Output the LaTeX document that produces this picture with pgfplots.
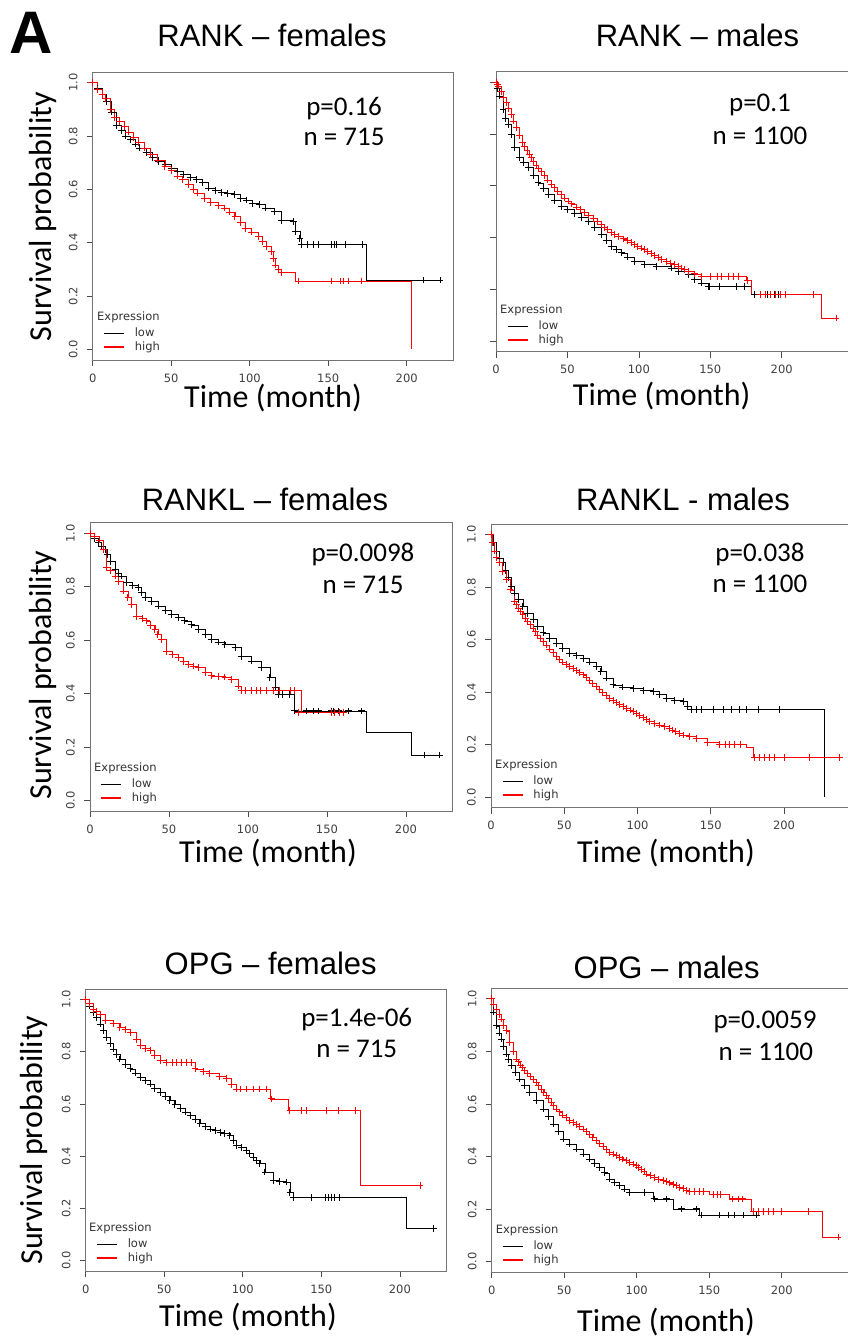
\documentclass[border=0pt]{standalone}
\usepackage{pgfplots}
\pgfplotsset{compat=1.18}
\usepackage{fontspec}
\setmainfont{Liberation Sans}
\newfontfamily\arialf{Liberation Sans}
\newfontfamily\calib{Carlito}
\newfontfamily\dejavu{DejaVu Sans}

\pgfplotsset{
  km/.style={
    scale only axis, anchor=north west,
    xmin=0, ymin=-0.04, ymax=1.04,
    axis line style={draw=black!55, line width=0.7bp},
    tick align=outside, tick pos=left,
    major tick length=6bp,
    tick style={black!70, line width=0.7bp},
    xtick={0,50,100,150,200}, xticklabels={0,50,100,150,200},
    ytick={0,0.2,0.4,0.6,0.8,1}, yticklabels={0.0,0.2,0.4,0.6,0.8,1.0},
    ticklabel style={font=\dejavu\fontsize{11.5bp}{13bp}\selectfont, text=black!75, inner sep=0pt},
    xticklabel style={anchor=north},
    yticklabel style={rotate=90, anchor=south},
    xticklabel shift=7.5bp, yticklabel shift=9bp,
    legend image code/.code={\draw[#1] (0bp,0bp) -- (20bp,0bp);},
    legend cell align=left,
    legend style={draw=none, fill=none, anchor=north west, inner sep=0pt,
      row sep=3bp, column sep=10bp,
      font=\dejavu\fontsize{11.5bp}{13bp}\selectfont, text=black!80,
      nodes={inner sep=0pt, text height=8.5bp, text depth=2.5bp}},
  },
  lowm/.style={forget plot, const plot, black, line width=0.8bp, mark=+, mark size=3.4bp, mark options={line width=0.9bp}},
  lowl/.style={forget plot, const plot, black, line width=0.8bp, no markers},
  lowc/.style={forget plot, only marks, black, mark=+, mark size=3.4bp, line width=0.9bp},
  highm/.style={forget plot, const plot, red, line width=0.8bp, mark=+, mark size=3.4bp, mark options={line width=0.9bp}},
  highl/.style={forget plot, const plot, red, line width=0.8bp, no markers},
  highc/.style={forget plot, only marks, red, mark=+, mark size=3.4bp, line width=0.9bp},
  lowkey/.style={draw=black, line width=1.4bp},
  highkey/.style={draw=red, line width=1.6bp},
}

\begin{document}
\begin{tikzpicture}
\useasboundingbox (0,0) rectangle (848bp,-1338bp);
\clip (0,0) rectangle (848bp,-1338bp);

% RANK - females
\begin{axis}[km, at={(92.7bp,-72bp)}, width=360.3bp, height=288bp, xmax=229.5,
  legend style={at={(0.0286,0.1128)}}]
\addplot[lowm] coordinates {(0,1.0)(3,0.98)(6,0.955)(9,0.93)(12,0.89)(15,0.84)(18,0.82)(21,0.80)(24,0.787)(27,0.77)(30,0.755)(34,0.737)(38,0.72)(42,0.705)(46,0.692)(50,0.68)(54,0.667)(58,0.655)(62,0.645)(66,0.636)(70,0.625)(74,0.605)(78,0.595)(82,0.588)(86,0.585)(90,0.58)(94,0.567)(98,0.56)(102,0.548)(106,0.542)(110,0.53)(116,0.517)(120,0.482)(127.8,0.479)(128.9,0.442)(132,0.417)(133.1,0.394)};
\addplot[lowl] coordinates {(133.1,0.394)(174.5,0.26)(221.2,0.26)};
\addplot[lowc] coordinates {(136.9,0.394)(140.5,0.394)(143.7,0.394)(152.2,0.394)(153.9,0.394)(155.4,0.394)(160.7,0.394)(171.9,0.394)(210.6,0.26)(221.2,0.26)};
\addplot[highm] coordinates {(0,1.0)(3,0.975)(6,0.955)(8,0.94)(11,0.9)(14,0.87)(17,0.853)(20,0.835)(23,0.815)(26,0.795)(29,0.775)(33,0.755)(37,0.732)(41,0.71)(46,0.686)(50,0.67)(54,0.65)(57,0.636)(61,0.618)(64,0.6)(67,0.586)(71,0.567)(75,0.55)(80,0.54)(84,0.53)(87,0.515)(90.6,0.498)(94,0.475)(97,0.454)(101,0.44)(105.5,0.423)(108,0.405)(110.8,0.385)(113.9,0.366)(115,0.34)(116.1,0.316)(118,0.3)(120.4,0.289)};
\addplot[highl] coordinates {(120.4,0.289)(128.9,0.256)(203.2,0.0)};
\addplot[highc] coordinates {(131,0.256)(151.8,0.256)(157.5,0.256)(159.7,0.256)(162.8,0.256)(171.3,0.256)};
\addlegendimage{lowkey}\addlegendentry{low}
\addlegendimage{highkey}\addlegendentry{high}
\end{axis}

% RANK - males
\begin{axis}[km, at={(496bp,-71.7bp)}, width=362bp, height=280bp, xmax=253.4,
  yticklabels={}, legend style={at={(0.0297,0.1114)}}]
\addplot[lowm] coordinates {(0,1.0)(1,0.975)(2.5,0.946)(4.9,0.895)(6.5,0.86)(8.4,0.837)(10.7,0.798)(13.1,0.747)(16.6,0.708)(19.5,0.69)(22.4,0.669)(26,0.64)(29.4,0.611)(33,0.588)(36.4,0.566)(41,0.543)(45.7,0.521)(50,0.507)(55,0.492)(60,0.478)(64.4,0.463)(69,0.44)(73.7,0.412)(77,0.39)(80.7,0.367)(84,0.355)(87.7,0.341)(92,0.325)(97,0.309)(104,0.296)(112,0.29)(122.7,0.283)(128,0.27)(134.4,0.258)(139,0.24)(143.7,0.225)(148.4,0.213)};
\addplot[lowl] coordinates {(148.4,0.213)(178.7,0.18)(198,0.18)};
\addplot[lowc] coordinates {(149.6,0.213)(156.6,0.213)(168.3,0.213)(174.1,0.213)(181,0.18)(185,0.18)(190,0.18)(195,0.18)(198,0.18)};
\addplot[highm] coordinates {(0,1.0)(1,0.99)(2,0.985)(3.7,0.965)(5.5,0.94)(7.2,0.92)(9,0.897)(10.7,0.875)(12.5,0.85)(14.2,0.824)(16.5,0.795)(18.8,0.766)(20.2,0.752)(21.7,0.737)(23.2,0.722)(24.7,0.708)(26.3,0.694)(28,0.68)(30,0.668)(31.7,0.656)(34,0.64)(36,0.622)(38.5,0.606)(41,0.592)(43.3,0.578)(45.5,0.565)(48,0.553)(50.4,0.541)(53,0.53)(56,0.518)(59,0.507)(62,0.496)(65,0.485)(68,0.473)(71,0.462)(73.7,0.451)(76,0.44)(78,0.43)(80.5,0.421)(83,0.412)(86,0.403)(89,0.395)(92,0.388)(94.7,0.38)(97,0.374)(99,0.367)(101.5,0.36)(104,0.354)(106.3,0.346)(108.5,0.338)(111,0.33)(113.4,0.322)(116,0.315)(119,0.309)(122,0.302)(125,0.296)(127.5,0.29)(130,0.283)(132,0.277)(134.4,0.27)(139,0.26)(143.7,0.251)};
\addplot[highl] coordinates {(143.7,0.251)(175,0.235)(178.7,0.18)(227.7,0.09)(238,0.09)};
\addplot[highc] coordinates {(150,0.251)(155,0.251)(158,0.251)(163,0.251)(166,0.251)(170,0.251)(176,0.235)(184.8,0.18)(188.3,0.18)(191.8,0.18)(195.3,0.18)(198.8,0.18)(202.3,0.18)(222.1,0.18)(238,0.09)};
\addlegendimage{lowkey}\addlegendentry{low}
\addlegendimage{highkey}\addlegendentry{high}
\end{axis}

% RANKL - females
\begin{axis}[km, at={(90bp,-522.7bp)}, width=362.7bp, height=288.3bp, xmax=229.6,
  legend style={at={(0.0276,0.1127)}}]
\addplot[lowm] coordinates {(0,1.0)(3,0.98)(5.3,0.965)(7.5,0.95)(9.5,0.94)(11,0.92)(12.7,0.896)(15.8,0.865)(18,0.85)(20,0.84)(23.2,0.815)(27,0.805)(30.6,0.797)(32.5,0.78)(34.8,0.759)(39,0.745)(43.2,0.728)(47.5,0.712)(51.7,0.697)(56,0.685)(60,0.672)(64,0.657)(68.6,0.64)(73,0.62)(77,0.603)(81,0.593)(85.4,0.584)(91.8,0.572)(96,0.54)(102.3,0.522)(108.7,0.497)(113.9,0.459)(117.1,0.422)(119.2,0.397)(122,0.397)(126,0.397)};
\addplot[lowl] coordinates {(126,0.397)(129.7,0.335)(175.1,0.253)(203.6,0.17)(221.5,0.17)};
\addplot[lowc] coordinates {(129.7,0.335)(137.1,0.335)(141.3,0.335)(144.5,0.335)(152.9,0.335)(154,0.335)(157.2,0.335)(163.5,0.335)(171.9,0.335)(212,0.17)(221.5,0.17)};
\addplot[highm] coordinates {(0,1.0)(3,0.99)(6,0.975)(8.5,0.94)(10.5,0.871)(13,0.86)(15.8,0.84)(17.9,0.821)(21.1,0.784)(24,0.76)(26.4,0.734)(29.5,0.69)(33,0.68)(35.9,0.672)(38.5,0.655)(41.1,0.64)(43,0.62)(45.4,0.603)(48.5,0.559)(52,0.545)(55.9,0.534)(59,0.52)(62.3,0.509)(65.5,0.503)(68.6,0.497)(73,0.48)(77,0.466)(81,0.464)(85.4,0.462)(89.6,0.453)(93.7,0.428)(96,0.41)};
\addplot[highl] coordinates {(96,0.41)(134,0.328)(160.3,0.328)};
\addplot[highc] coordinates {(98.1,0.41)(102.3,0.41)(105.5,0.41)(107.6,0.41)(111.8,0.41)(116,0.41)(120,0.41)(126.6,0.41)(129.7,0.41)(131.8,0.328)(152.9,0.328)(155,0.328)(158.2,0.328)(160.3,0.328)};
\addlegendimage{lowkey}\addlegendentry{low}
\addlegendimage{highkey}\addlegendentry{high}
\end{axis}

% RANKL - males
\begin{axis}[km, at={(491bp,-524.3bp)}, width=365bp, height=283.4bp, xmax=249.1,
  legend style={at={(0.0293,0.1136)}}]
\addplot[lowm] coordinates {(0,1.0)(1.5,0.97)(3.6,0.938)(6,0.91)(8.2,0.893)(10,0.865)(11.6,0.836)(14,0.805)(16.2,0.778)(19,0.752)(21.8,0.727)(25,0.7)(28.7,0.676)(32,0.65)(35.5,0.626)(40,0.606)(44.6,0.587)(49,0.568)(53.7,0.549)(58,0.54)(62.8,0.53)(67,0.515)(71.9,0.498)(75,0.478)(78.7,0.454)(83.3,0.428)(90,0.42)(96.9,0.415)(104,0.408)(110.6,0.402)(115,0.39)(119.7,0.377)(125,0.37)(131,0.364)(134,0.345)(136.7,0.333)};
\addplot[lowl] coordinates {(136.7,0.333)(227.8,0.0)};
\addplot[lowc] coordinates {(140.1,0.333)(143.6,0.333)(151.5,0.333)(158.4,0.333)(164.1,0.333)(169.8,0.333)(174.4,0.333)(182.3,0.333)(197.1,0.333)};
\addplot[highm] coordinates {(0,1.0)(1,0.97)(2.5,0.938)(4,0.915)(5.9,0.893)(8,0.86)(10.5,0.83)(13,0.79)(16.2,0.747)(17.6,0.733)(19,0.72)(20.4,0.707)(21.8,0.695)(23.4,0.682)(25,0.67)(26.8,0.657)(28.7,0.645)(30.3,0.631)(32,0.618)(33.7,0.606)(35.5,0.594)(37.8,0.58)(40,0.565)(42.3,0.55)(44.6,0.536)(47,0.525)(49,0.515)(51.3,0.506)(53.7,0.498)(56,0.49)(58,0.482)(60.4,0.474)(62.8,0.466)(65,0.455)(67,0.445)(69.5,0.433)(71.9,0.422)(74,0.411)(76,0.4)(78.5,0.388)(81,0.377)(83.3,0.368)(85.5,0.36)(87.8,0.352)(90.1,0.345)(92.5,0.338)(95,0.332)(97,0.326)(99.2,0.32)(101.6,0.312)(104,0.304)(106,0.296)(108.3,0.288)(111.5,0.281)(115,0.275)(118.5,0.269)(122,0.263)(124,0.256)(126,0.25)(128.5,0.243)(131,0.237)(135.5,0.23)(140.1,0.224)(148,0.21)(156,0.2)};
\addplot[highl] coordinates {(156,0.2)(174.4,0.19)(179,0.15)(238,0.15)};
\addplot[highc] coordinates {(160,0.2)(163,0.2)(166,0.2)(170,0.2)(180,0.15)(183.4,0.15)(186.8,0.15)(190.2,0.15)(193.6,0.15)(200.5,0.15)(217.5,0.15)(238,0.15)};
\addlegendimage{lowkey}\addlegendentry{low}
\addlegendimage{highkey}\addlegendentry{high}
\end{axis}

% OPG - females
\begin{axis}[km, at={(85.7bp,-989bp)}, width=361bp, height=282bp, xmax=229.8,
  legend style={at={(0.0285,0.1152)}}]
\addplot[lowm] coordinates {(0,1.0)(2.5,0.975)(4.9,0.95)(7,0.93)(9.1,0.906)(11,0.88)(13.3,0.855)(15.5,0.832)(17.6,0.81)(19.7,0.79)(21.8,0.772)(25,0.752)(28.2,0.734)(31.4,0.718)(34.6,0.702)(37.8,0.69)(40.9,0.676)(44,0.66)(47.3,0.645)(50.5,0.629)(53.6,0.613)(56.8,0.597)(60,0.581)(63.2,0.569)(66.4,0.556)(69.6,0.54)(72.7,0.524)(76,0.514)(79.1,0.504)(82.3,0.498)(85.5,0.492)(88.6,0.486)(91.8,0.479)(94,0.46)(96,0.441)(99.2,0.432)(102.4,0.422)(104.5,0.409)(106.7,0.396)(108.8,0.384)(110.9,0.371)(114.1,0.339)(119.4,0.307)(123.6,0.304)(127.9,0.301)(130,0.262)(132.2,0.243)};
\addplot[lowl] coordinates {(132.2,0.243)(204.3,0.122)(221.3,0.122)};
\addplot[lowc] coordinates {(143.8,0.243)(152.3,0.243)(154.4,0.243)(156.5,0.243)(158.6,0.243)(161.8,0.243)(221.3,0.122)};
\addplot[highm] coordinates {(0,1.0)(2.5,0.985)(4.9,0.963)(7,0.955)(9.1,0.944)(12.3,0.918)(17.6,0.909)(21.8,0.893)(25,0.885)(28.2,0.874)(32.4,0.848)(34.6,0.823)(38,0.812)(40.9,0.804)(44,0.785)(47.3,0.766)(51.5,0.758)};
\addplot[highl] coordinates {(51.5,0.758)(69.6,0.734)};
\addplot[highm] coordinates {(69.6,0.734)(75,0.725)(79,0.715)(85,0.705)(89.7,0.696)(93,0.675)(96,0.657)};
\addplot[highl] coordinates {(96,0.657)(117.3,0.619)(129,0.575)(174.6,0.288)(212.8,0.288)};
\addplot[highc] coordinates {(55,0.758)(58,0.758)(61,0.758)(64,0.758)(67,0.758)(98.2,0.657)(102.4,0.657)(106.7,0.657)(110.9,0.657)(115.2,0.657)(118.4,0.619)(130,0.575)(137.5,0.575)(140.7,0.575)(153.4,0.575)(160.8,0.575)(171.4,0.575)(212.8,0.288)};
\addlegendimage{lowkey}\addlegendentry{low}
\addlegendimage{highkey}\addlegendentry{high}
\end{axis}

% OPG - males
\begin{axis}[km, at={(491.7bp,-988.3bp)}, width=365bp, height=284bp, xmax=251.7,
  legend style={at={(0.0274,0.112)}}]
\addplot[lowm] coordinates {(0,1.0)(1.5,0.95)(3.2,0.897)(5,0.87)(6.6,0.847)(8.4,0.818)(10.1,0.79)(11.8,0.768)(13.5,0.746)(16.4,0.72)(19.3,0.695)(22.7,0.67)(26.2,0.645)(30.8,0.613)(35.4,0.581)(38.8,0.552)(42.3,0.524)(45.7,0.495)(49.2,0.467)(53.8,0.448)(58.4,0.429)(63,0.41)(67.6,0.391)(71,0.375)(74.5,0.36)(78,0.338)(81.4,0.315)(84.9,0.302)(88.3,0.29)(91.8,0.277)(95.2,0.265)};
\addplot[lowl] coordinates {(95.2,0.265)(111.2,0.239)(125,0.201)(143.4,0.178)(182.5,0.178)};
\addplot[lowc] coordinates {(105.5,0.265)(112.4,0.239)(120.4,0.239)(130.8,0.201)(141.1,0.201)(144.6,0.178)(157.2,0.178)(163,0.178)(167.6,0.178)(173.3,0.178)(182.5,0.178)};
\addplot[highm] coordinates {(0,1.0)(1.5,0.98)(3.2,0.96)(5,0.94)(6.6,0.923)(8.4,0.9)(10.1,0.878)(12.4,0.834)(14.7,0.8)(17,0.771)(18.5,0.76)(20,0.748)(21.4,0.738)(22.7,0.727)(24.7,0.716)(26.7,0.705)(28.7,0.694)(30.8,0.682)(32.5,0.67)(34.2,0.657)(36,0.645)(37.7,0.632)(39.3,0.62)(41,0.606)(42.8,0.594)(44.6,0.581)(46.8,0.57)(49,0.558)(51.4,0.548)(53.8,0.537)(56.2,0.529)(58.5,0.521)(60.8,0.513)(63,0.505)(65.3,0.494)(67.5,0.483)(69.8,0.472)(72.2,0.461)(74.6,0.45)(77,0.44)(79.2,0.428)(81.4,0.417)(83.7,0.41)(86,0.404)(88.3,0.397)(90.5,0.391)(92.8,0.384)(95,0.378)(97.4,0.372)(99.8,0.366)(101.4,0.358)(103,0.35)(105,0.342)(106.7,0.334)(109.3,0.327)(112,0.32)(115,0.314)(118.1,0.309)(120.3,0.305)(122.5,0.3)(125,0.295)(127.3,0.29)(129.6,0.284)(132,0.278)(134.3,0.272)(136.6,0.267)};
\addplot[highl] coordinates {(136.6,0.267)(150.3,0.255)(164.1,0.239)(179.1,0.191)(228,0.094)(238.8,0.094)};
\addplot[highc] coordinates {(140,0.267)(143,0.267)(146,0.267)(153,0.255)(156,0.255)(158,0.255)(166,0.239)(170,0.239)(173,0.239)(180.2,0.191)(183.7,0.191)(187.1,0.191)(190.6,0.191)(194,0.191)(199.7,0.191)(218.2,0.191)(238.8,0.094)};
\addlegendimage{lowkey}\addlegendentry{low}
\addlegendimage{highkey}\addlegendentry{high}
\end{axis}

% texts
\tikzset{ttl/.style={anchor=base, inner sep=0pt, font=\arialf\fontsize{31bp}{36bp}\selectfont},
  pv/.style={anchor=base, inner sep=0pt, font=\calib\fontsize{27bp}{32bp}\selectfont},
  lab/.style={anchor=base, inner sep=0pt, font=\calib\fontsize{32bp}{38bp}\selectfont},
  expr/.style={anchor=base west, inner sep=0pt, text=black!80, font=\dejavu\fontsize{11.5bp}{13bp}\selectfont}}
\node[anchor=base west, inner sep=0pt, font=\arialf\bfseries\fontsize{60bp}{70bp}\selectfont] at (9.5bp,-53.3bp) {A};

\node[ttl] at (272bp,-46.7bp) {RANK – females};
\node[ttl] at (697.5bp,-46.7bp) {RANK – males};
\node[ttl] at (265bp,-510bp) {RANKL – females};
\node[ttl] at (683bp,-510bp) {RANKL - males};
\node[ttl] at (270.7bp,-974.3bp) {OPG – females};
\node[ttl] at (666.7bp,-978.3bp) {OPG – males};

\node[pv] at (344bp,-115bp) {p=0.16};
\node[pv] at (344bp,-145.7bp) {n = 715};
\node[pv] at (760bp,-111.7bp) {p=0.1};
\node[pv] at (760bp,-144bp) {n = 1100};
\node[pv] at (363bp,-561.7bp) {p=0.0098};
\node[pv] at (363bp,-593.3bp) {n = 715};
\node[pv] at (760bp,-561.7bp) {p=0.038};
\node[pv] at (760bp,-592.7bp) {n = 1100};
\node[pv] at (356.7bp,-1026bp) {p=1.4e-06};
\node[pv] at (356.7bp,-1057.3bp) {n = 715};
\node[pv] at (765bp,-1028.3bp) {p=0.0059};
\node[pv] at (765.8bp,-1060bp) {n = 1100};

\node[lab, rotate=90] at (51.5bp,-216.7bp) {Survival probability};
\node[lab, rotate=90] at (51.5bp,-675bp) {Survival probability};
\node[lab, rotate=90] at (42bp,-1140bp) {Survival probability};

\node[lab] at (273bp,-407.5bp) {Time (month)};
\node[lab] at (661.7bp,-405bp) {Time (month)};
\node[lab] at (268bp,-862bp) {Time (month)};
\node[lab] at (666bp,-862bp) {Time (month)};
\node[lab] at (248bp,-1326bp) {Time (month)};
\node[lab] at (666bp,-1331bp) {Time (month)};

\node[expr] at (97bp,-320bp) {Expression};
\node[expr] at (500bp,-313bp) {Expression};
\node[expr] at (94bp,-771bp) {Expression};
\node[expr] at (495bp,-768bp) {Expression};
\node[expr] at (89bp,-1231bp) {Expression};
\node[expr] at (495.7bp,-1233bp) {Expression};
\end{tikzpicture}
\end{document}
